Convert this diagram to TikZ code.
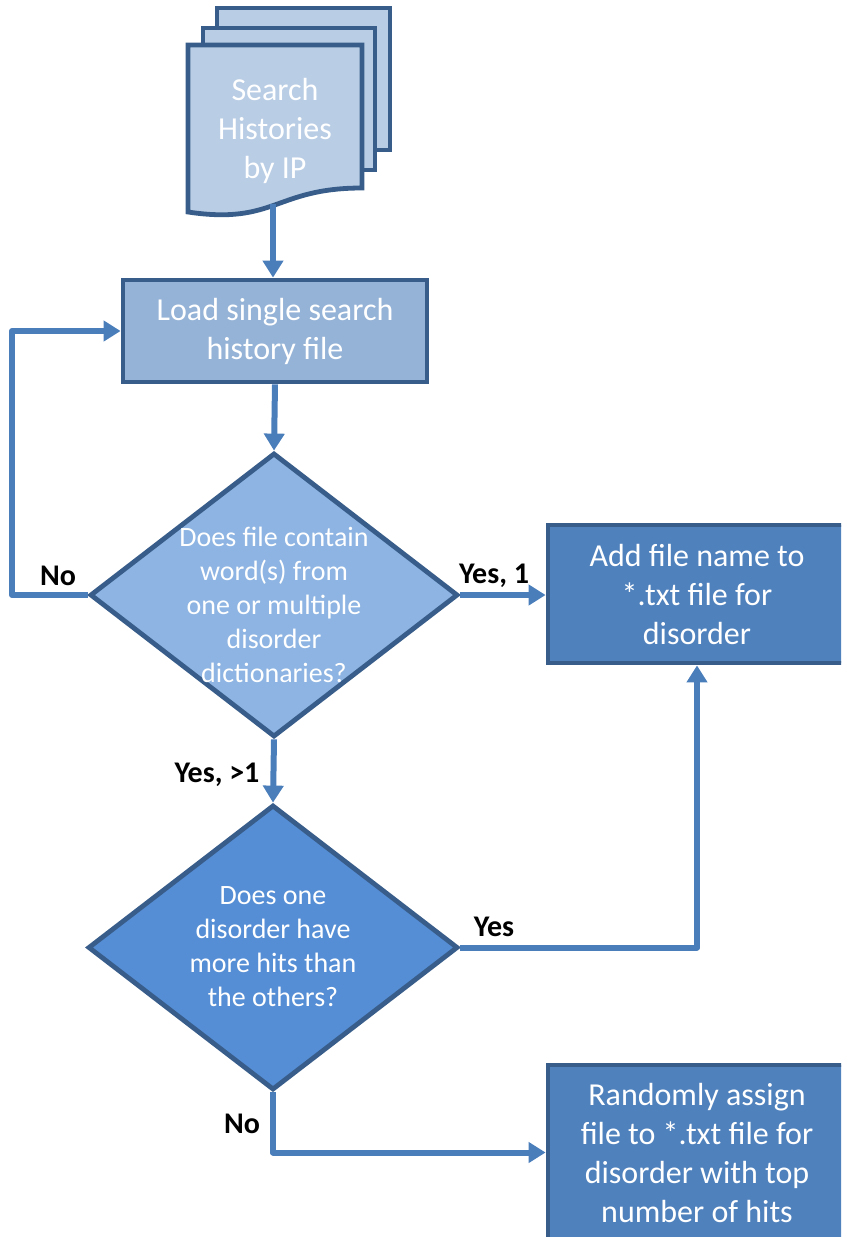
\documentclass[tikz,border=0pt]{standalone}
\usepackage{fontspec}
\setmainfont{Carlito}
\usetikzlibrary{shapes.geometric,arrows.meta}
\definecolor{docfill}{HTML}{B9CDE5}
\definecolor{loadfill}{HTML}{95B3D7}
\definecolor{dfill}{HTML}{8DB4E2}
\definecolor{boxfill}{HTML}{4F81BD}
\definecolor{dtwofill}{HTML}{558ED5}
\definecolor{edgec}{HTML}{385D8A}
\definecolor{linec}{HTML}{4A7EBB}
\begin{document}
\begin{tikzpicture}[x=0.5pt,y=-0.5pt,
  box/.style={draw=edgec,line width=2.4pt,rectangle,text=white,align=center,
    font=\fontsize{16}{19.5}\selectfont,inner sep=0pt},
  dia/.style={draw=edgec,line width=2.4pt,diamond,inner sep=0pt},
  dtext/.style={text=white,align=center,font=\fontsize{14}{17}\selectfont},
  page/.style={draw=edgec,line width=2.4pt,fill=docfill,line join=miter},
  lab/.style={text=black,font=\bfseries\fontsize{15}{17}\selectfont},
  conn/.style={draw=linec,line width=3pt,line join=round,-{Triangle[length=8.5pt,width=10pt]}}]
\clip (0,0) rectangle (841,1237);
% document stack
\draw[page] (217,8) rectangle (390,150);
\draw[page] (203,28) rectangle (375,170);
\draw[page] (188,45) -- (362,45) -- (362,188) .. controls (275,188) and (275,225) .. (188,212) -- cycle;
\node[text=white,align=center,font=\fontsize{16}{19.5}\selectfont] (doc) at (275,131) {Search\\Histories\\by IP};
\coordinate (docb) at (273,204);
% boxes
\node[box,fill=loadfill,minimum width=152pt,minimum height=51pt] (load) at (275,331) {Load single search\\history file};
\node[box,fill=boxfill,minimum width=149pt,minimum height=69pt] (add) at (697,594) {Add file name to\\*.txt file for\\disorder};
\node[box,fill=boxfill,minimum width=149pt,minimum height=87.5pt] (rand) at (697,1152.5) {Randomly assign\\file to *.txt file for\\disorder with top\\number of hits};
% diamonds
\node[dia,fill=dfill,minimum width=184pt,minimum height=142pt] (d1) at (274,595) {};
\node[dtext] (d1t) at (274,605) {Does file contain\\word(s) from\\one or multiple\\disorder\\dictionaries?};
\node[dia,fill=dtwofill,minimum width=185pt,minimum height=142.5pt] (d2) at (273,947.5) {};
\node[dtext] (d2t) at (273,947) {Does one\\disorder have\\more hits than\\the others?};
% connectors
\coordinate (loopx) at (12,0);
\draw[conn] (docb) -- (docb |- load.north);
\draw[conn] (load.south) -- (d1.north);
\draw[conn] (d1.west) -- (d1.west -| loopx) |- (load.west);
\draw[conn] (d1.east) -- (d1.east -| add.west);
\draw[conn] (d1.south) -- (d2.north);
\draw[conn] (d2.east) -| (add.south);
\draw[conn] (d2.south) |- (rand.west);
% labels
\node[lab] (lno1) at (58,576) {No};
\node[lab] (lyes1) at (494,576) {Yes, 1};
\node[lab] (lyes2) at (217,775) {Yes, >1};
\node[lab] (lyes3) at (494,927) {Yes};
\node[lab] (lno2) at (242,1124) {No};
\end{tikzpicture}
\end{document}
